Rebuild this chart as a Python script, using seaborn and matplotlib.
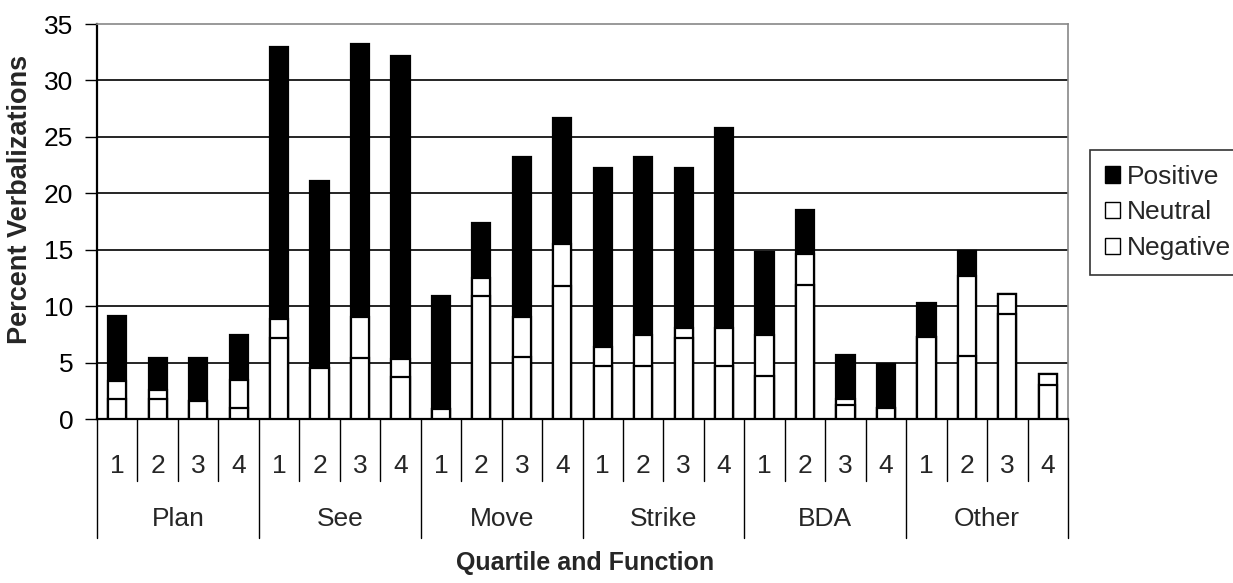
import numpy as np
import pandas as pd
import matplotlib
matplotlib.use("Agg")
import matplotlib.pyplot as plt
from matplotlib.patches import Patch
from matplotlib.transforms import blended_transform_factory
import seaborn as sns

# Verbalization percentages by function and quartile
functions = ["Plan", "See", "Move", "Strike", "BDA", "Other"]
quartiles = ["1", "2", "3", "4"]

negative = [1.8, 1.8, 1.6, 1.0,
            7.2, 4.5, 5.4, 3.7,
            0.9, 10.9, 5.5, 11.8,
            4.7, 4.7, 7.2, 4.7,
            3.8, 11.9, 1.2, 1.0,
            7.3, 5.6, 9.3, 3.0]
neutral = [1.6, 0.8, 0.0, 2.5,
           1.7, 0.0, 3.6, 1.6,
           0.0, 1.6, 3.5, 3.7,
           1.7, 2.7, 0.9, 3.4,
           3.6, 2.7, 0.6, 0.0,
           0.0, 7.1, 1.8, 1.0]
positive = [5.7, 2.8, 3.8, 3.9,
            24.1, 16.6, 24.2, 26.9,
            10.0, 4.9, 14.2, 11.2,
            15.8, 15.8, 14.1, 17.7,
            7.4, 3.9, 3.9, 3.9,
            3.0, 2.2, 0.0, 0.0]

sns.set_theme(style="white")
plt.rcParams["font.family"] = ["Liberation Sans", "DejaVu Sans"]

slots = [f"{f}-{q}" for f in functions for q in quartiles]
neg = np.array(negative)
neu = np.array(neutral)
pos = np.array(positive)
df = pd.DataFrame({
    "slot": slots,
    "negative": neg,
    "neg_neu": neg + neu,
    "total": neg + neu + pos,
})

fig = plt.figure(figsize=(12.33, 5.83), dpi=100)
ax = fig.add_axes([0.0787, 0.2813, 0.7875, 0.6775])

bar_kw = dict(x="slot", order=slots, errorbar=None, width=0.45,
              edgecolor="black", linewidth=1.6, ax=ax, zorder=3)
# stacked: full height in black, then the two lower segments in white
sns.barplot(data=df, y="total", color="black", saturation=1, **bar_kw)
sns.barplot(data=df, y="neg_neu", color="white", saturation=1, **bar_kw)
sns.barplot(data=df, y="negative", color="white", saturation=1, **bar_kw)

ax.set_xlim(-0.5, len(slots) - 0.5)
ax.set_ylim(0, 35)
ax.set_yticks(np.arange(0, 36, 5))
ax.tick_params(axis="y", labelsize=19, length=9, width=1, pad=8,
               direction="out", left=True, colors="black")
ax.set_xticks([])
ax.set_xlabel("")
ax.set_ylabel("")

ax.yaxis.grid(True, color="black", linewidth=1.2)
ax.set_axisbelow(True)
ax.get_ygridlines()[0].set_visible(False)
ax.get_ygridlines()[-1].set_visible(False)

for side in ("left", "bottom"):
    ax.spines[side].set_color("black")
    ax.spines[side].set_linewidth(1.6)
for side in ("top", "right"):
    ax.spines[side].set_color("#888888")
    ax.spines[side].set_linewidth(1.2)
    ax.spines[side].set_linestyle((0, (1, 1)))

# two-level category axis drawn as a table under the plot
trans = blended_transform_factory(ax.transData, ax.transAxes)
n = len(slots)
for b in range(n + 1):
    xb = b - 0.5
    depth = -0.302 if b % 4 == 0 else -0.157
    ax.plot([xb, xb], [0, depth], color="black", linewidth=1.0,
            transform=trans, clip_on=False)
for i, s in enumerate(slots):
    ax.text(i, -0.119, s.split("-")[1], transform=trans, ha="center",
            va="center", fontsize=19)
for g, f in enumerate(functions):
    ax.text(g * 4 + 1.5, -0.252, f, transform=trans, ha="center",
            va="center", fontsize=19)

fig.text(0.4745, 1 - 563 / 583, "Quartile and Function", ha="center",
         va="center", fontsize=18, fontweight="bold")
fig.text(20 / 1233, 1 - 199 / 583, "Percent Verbalizations", ha="center",
         va="center", rotation=90, fontsize=19.5, fontweight="bold")

handles = [Patch(facecolor="black", edgecolor="black", label="Positive"),
           Patch(facecolor="white", edgecolor="black", label="Neutral"),
           Patch(facecolor="white", edgecolor="black", label="Negative")]
leg = fig.legend(handles=handles, loc="upper left",
                 bbox_to_anchor=(1090 / 1233, 1 - 150 / 583),
                 frameon=True, fancybox=False, fontsize=19,
                 handlelength=0.6, handleheight=0.6, handletextpad=0.25,
                 labelspacing=0.45, borderpad=0.55, borderaxespad=0)
leg.get_frame().set_edgecolor("black")
leg.get_frame().set_linewidth(1.2)

fig.savefig("out.png", dpi=100, facecolor="white")
